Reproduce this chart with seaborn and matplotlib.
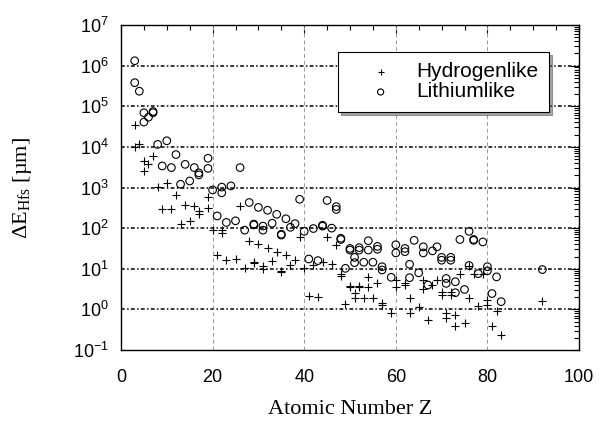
import numpy as np
import pandas as pd
import matplotlib
matplotlib.use("Agg")
import matplotlib.pyplot as plt
import matplotlib.ticker as mticker
import seaborn as sns

# Hydrogenlike: atomic number and log10 of Delta E_Hfs [um]
h_z = [3, 3, 4, 5, 5, 6, 7, 8, 9, 10, 11, 12, 13, 14, 15, 16, 17, 17, 19, 19,
       20, 21, 22, 22, 23, 25, 26, 27, 28, 29, 29, 30, 31, 31, 32, 33, 34, 35, 35,
       36, 37, 38, 39, 40, 41, 42, 43, 44, 45, 46, 47, 48, 48, 49, 50, 50, 51, 51,
       52, 52, 53, 54, 54, 55, 56, 57, 57, 59, 60, 60, 62, 62, 63, 63, 65, 66, 66,
       67, 68, 69, 70, 70, 71, 71, 72, 72, 73, 73, 74, 75, 76, 76, 77, 78, 79,
       80, 80, 81, 82, 83, 92]
h_log = [4.54, 3.99, 4.06, 3.66, 3.41, 3.59, 3.77, 3.01, 2.47, 3.12, 2.47, 2.81,
         2.09, 2.58, 2.17, 2.54, 2.43, 2.36, 2.77, 2.50,
         1.95, 1.35, 1.95, 1.88, 1.21, 1.23, 2.55, 1.02, 1.69, 1.17, 1.14, 1.61,
         1.06, 1.00, 1.52, 1.20, 1.42, 0.94, 0.92,
         1.33, 1.09, 1.21, 1.79, 1.01, 0.33, 1.09, 0.30, 1.17, 1.79, 1.11, 1.58,
         0.86, 0.83, 0.13, 0.58, 0.56, 0.41, 0.27,
         0.58, 0.55, 0.27, 0.80, 0.55, 0.27, 0.64, 0.16, 0.12, -0.09, 0.72, 0.54,
         0.66, 0.60, 0.28, -0.10, 0.05, 0.72, 0.51,
         -0.27, 0.60, 0.72, 0.43, 0.35, -0.10, -0.22, 0.43, 0.35, -0.14, -0.41,
         0.87, -0.33, 1.08, 0.27, 0.88, 0.08, 0.87,
         0.23, 0.10, -0.41, -0.03, -0.62, 0.20]

# Lithiumlike
l_z = [3, 3, 4, 5, 5, 6, 7, 7, 8, 9, 10, 11, 12, 13, 14, 15, 16, 17, 17, 19, 19,
       20, 21, 22, 22, 23, 24, 25, 26, 27, 28, 29, 29, 30, 31, 31, 32, 33, 34, 35,
       35, 36, 37, 38, 39, 40, 41, 42, 43, 44, 44, 45, 46, 47, 47, 48, 48, 49, 50,
       50, 51, 51, 52, 52, 53, 54, 54, 55, 56, 56, 57, 57, 59, 60, 60, 62, 62, 63,
       63, 64, 65, 66, 66, 67, 68, 69, 70, 70, 71, 71, 72, 72, 73, 73, 74, 75, 76,
       76, 77, 77, 78, 79, 80, 80, 81, 82, 83, 92]
l_log = [6.12, 5.58, 5.37, 4.84, 4.61, 4.73, 4.87, 4.84, 4.06, 3.53, 4.15, 3.49,
         3.81, 3.08, 3.57, 3.16, 3.49, 3.36, 3.31, 3.72, 3.47,
         2.94, 2.30, 3.01, 2.87, 2.14, 3.04, 2.18, 3.49, 1.95, 2.63, 2.10, 2.08,
         2.51, 2.05, 1.95, 2.44, 2.12, 2.34, 1.85,
         1.83, 2.23, 2.02, 2.11, 2.71, 1.92, 1.24, 1.99, 1.20, 2.07, 2.05, 2.68,
         2.00, 2.53, 2.46, 1.75, 1.72, 1.01, 1.50,
         1.46, 1.28, 1.15, 1.52, 1.46, 1.16, 1.69, 1.46, 1.16, 1.55, 1.48, 1.05,
         0.97, 0.79, 1.59, 1.39, 1.50, 1.42, 1.11,
         0.78, 1.70, 0.90, 1.54, 1.39, 0.60, 1.44, 1.54, 1.28, 1.21, 0.76, 0.64,
         1.28, 1.21, 0.68, 0.41, 1.72, 0.49, 1.92,
         1.08, 1.72, 1.70, 0.88, 1.66, 1.05, 0.95, 0.39, 0.80, 0.19, 0.98]

series_labels = ["Hydrogenlike", "Lithiumlike"]
x_ticks = [0, 20, 40, 60, 80, 100]

df_h = pd.DataFrame({"Z": h_z, "E": np.power(10.0, h_log)})
df_l = pd.DataFrame({"Z": l_z, "E": np.power(10.0, l_log)})

sns.set_style("white")
plt.rcParams["font.family"] = ["Liberation Sans", "DejaVu Sans"]
plt.rcParams["mathtext.fontset"] = "custom"
plt.rcParams["mathtext.rm"] = "Liberation Sans"
for key in ["text.color", "axes.labelcolor", "xtick.color", "ytick.color",
            "xtick.labelcolor", "ytick.labelcolor"]:
    plt.rcParams[key] = "black"

fig = plt.figure(figsize=(6, 4.3), dpi=100)
ax = fig.add_axes([121 / 600, 1 - 350 / 430, 458 / 600, 325 / 430])

sns.scatterplot(data=df_h, x="Z", y="E", marker="+", s=30, color="black",
                linewidth=0.8, label=series_labels[0], ax=ax, zorder=3)
sns.scatterplot(data=df_l, x="Z", y="E", marker="o", s=30, facecolor="none",
                edgecolor="black", linewidth=0.8, label=series_labels[1], ax=ax,
                zorder=3)

ax.set_yscale("log")
ax.set_xlim(0, 100)
ax.set_ylim(1e-1, 1e7)
ax.set_xticks(x_ticks)
ax.xaxis.set_minor_locator(mticker.MultipleLocator(5))
ax.yaxis.set_major_locator(mticker.LogLocator(base=10, numticks=20))
ax.yaxis.set_minor_locator(mticker.LogLocator(base=10, subs=np.arange(2, 10), numticks=20))
ax.yaxis.set_minor_formatter(mticker.NullFormatter())

# grid lines
for dec in range(0, 7):
    ax.axhline(10.0 ** dec, color="black", lw=1.1, ls=(0, (2.5, 1.5, 1, 1.5)), zorder=1)
for xv in [20, 40, 60, 80]:
    ax.axvline(xv, color="#999999", lw=0.7, ls=(0, (4, 3)), zorder=1)

ax.tick_params(axis="both", which="both", direction="in", top=True, right=True,
               color="black", width=0.8)
ax.tick_params(axis="both", which="major", length=6, labelsize=13)
ax.tick_params(axis="both", which="minor", length=3.5)
ax.tick_params(axis="x", which="major", pad=14)
ax.tick_params(axis="y", which="major", pad=9)
for sp in ax.spines.values():
    sp.set_color("black")
    sp.set_linewidth(1.0)

ax.set_xlabel("Atomic Number Z", family="Liberation Serif", fontsize=16)
ax.set_ylabel("ΔE$_{\\mathregular{Hfs}}$ [µm]", family="Liberation Serif", fontsize=16)
ax.xaxis.set_label_coords(0.5, -0.155)
ax.yaxis.set_label_coords(-0.19, 0.5)

leg = ax.legend(loc="upper right", bbox_to_anchor=(0.934, 0.917), frameon=True,
                fancybox=False, shadow=True, fontsize=15, handlelength=3.1,
                handletextpad=0.16, borderpad=0.5, labelspacing=0.05,
                borderaxespad=0, markerscale=0.8)
leg.get_frame().set_edgecolor("black")
leg.get_frame().set_linewidth(0.8)

fig.savefig("out.png", dpi=100)
